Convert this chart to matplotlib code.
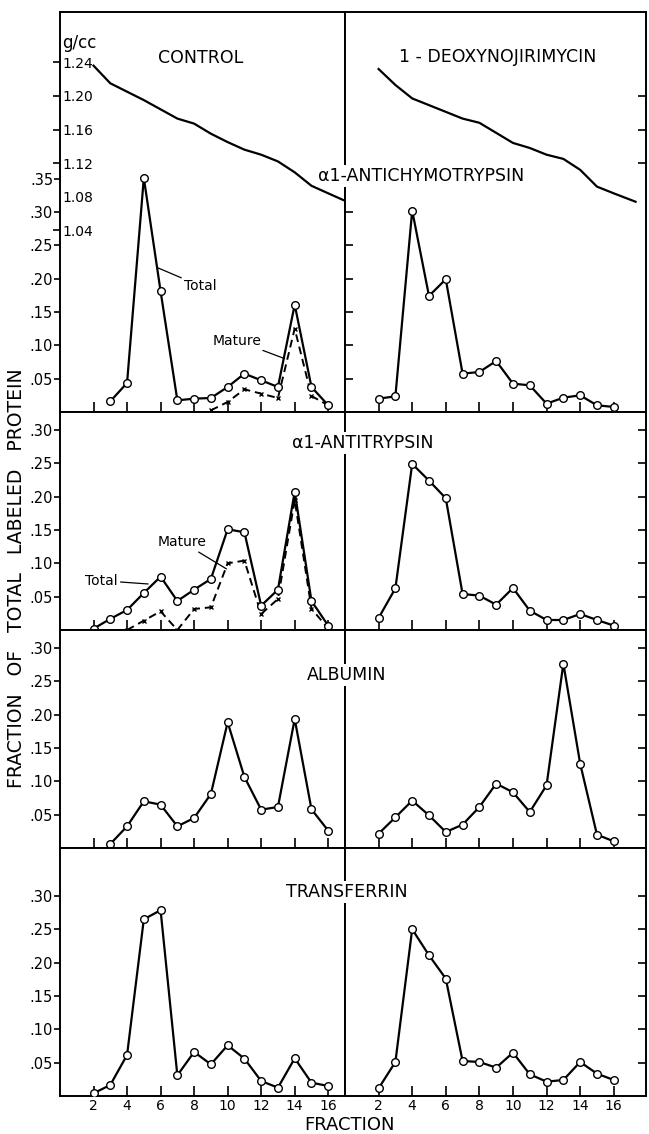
import matplotlib
matplotlib.use('Agg')
import matplotlib.pyplot as plt

# ---------------- data ----------------
x_ticks = [2, 4, 6, 8, 10, 12, 14, 16]
x_ticklabels = ['2', '4', '6', '8', '10', '12', '14', '16']
y_ticks_row1 = [0.05, 0.10, 0.15, 0.20, 0.25, 0.30, 0.35]
y_ticklabels_row1 = ['.05', '.10', '.15', '.20', '.25', '.30', '.35']
y_ticks_other = [0.05, 0.10, 0.15, 0.20, 0.25, 0.30]
y_ticklabels_other = ['.05', '.10', '.15', '.20', '.25', '.30']
density_ticks = [1.24, 1.20, 1.16, 1.12, 1.04]
density_ticklabels = ['1.24', '1.20', '1.16', '1.12', '1.04']
density_label_extra = [1.08]
density_label_extra_text = ['1.08']
density_ticks_right = [1.20, 1.16, 1.12]

# density gradients (g/cc)
density_frac_control = [2, 3, 4, 5, 6, 7, 8, 9, 10, 11, 12, 13, 14, 15, 16, 16.9]
density_control = [1.236, 1.215, 1.205, 1.195, 1.184, 1.173, 1.167, 1.155,
                   1.145, 1.136, 1.130, 1.122, 1.109, 1.093, 1.084, 1.076]
density_frac_dnj = [2, 3, 4, 5, 6, 7, 8, 9, 10, 11, 12, 13, 14, 15, 16, 17.3]
density_dnj = [1.232, 1.213, 1.197, 1.189, 1.181, 1.173, 1.168, 1.156,
               1.144, 1.138, 1.130, 1.125, 1.112, 1.092, 1.084, 1.074]

# alpha1-antichymotrypsin
act_ctrl_total_frac = list(range(3, 17))
act_ctrl_total = [0.016, 0.0435, 0.351, 0.181, 0.0175, 0.020, 0.021, 0.0375,
                  0.0575, 0.0475, 0.0375, 0.161, 0.0375, 0.010]
act_ctrl_mature_frac = list(range(9, 17))
act_ctrl_mature = [0.0025, 0.015, 0.034, 0.0275, 0.021, 0.125, 0.024, 0.010]
act_dnj_frac = list(range(2, 17))
act_dnj_total = [0.020, 0.0235, 0.302, 0.174, 0.199, 0.0575, 0.060, 0.0765,
                 0.0425, 0.040, 0.0125, 0.0215, 0.025, 0.010, 0.0076]

# alpha1-antitrypsin
at_ctrl_total_frac = list(range(2, 17))
at_ctrl_total = [0.002, 0.0167, 0.030, 0.0555, 0.080, 0.0435, 0.0605, 0.0765,
                 0.151, 0.1465, 0.0365, 0.0605, 0.2075, 0.0435, 0.0065]
at_ctrl_mature_frac = list(range(4, 17))
at_ctrl_mature = [0.0, 0.014, 0.028, 0.0, 0.0315, 0.034, 0.100, 0.104,
                  0.024, 0.0465, 0.195, 0.032, 0.002]
at_dnj_frac = list(range(2, 17))
at_dnj_total = [0.018, 0.0625, 0.249, 0.224, 0.1975, 0.054, 0.0515, 0.038,
                0.063, 0.029, 0.015, 0.015, 0.024, 0.015, 0.0066]

# albumin
alb_ctrl_frac = list(range(3, 17))
alb_ctrl_total = [0.006, 0.0325, 0.070, 0.065, 0.0325, 0.045, 0.081, 0.1885,
                  0.1065, 0.0575, 0.0615, 0.1935, 0.058, 0.026]
alb_dnj_frac = list(range(2, 17))
alb_dnj_total = [0.0215, 0.046, 0.071, 0.049, 0.024, 0.035, 0.0615, 0.0965,
                 0.0835, 0.054, 0.094, 0.2765, 0.1265, 0.020, 0.010]

# transferrin
tf_ctrl_frac = list(range(2, 17))
tf_ctrl_total = [0.004, 0.0165, 0.0615, 0.265, 0.2785, 0.031, 0.066, 0.0475,
                 0.076, 0.056, 0.0225, 0.0125, 0.0565, 0.020, 0.015]
tf_dnj_frac = list(range(2, 17))
tf_dnj_total = [0.0115, 0.051, 0.250, 0.211, 0.176, 0.0525, 0.051, 0.0425,
                0.065, 0.0325, 0.0215, 0.024, 0.051, 0.0335, 0.024]

protein_names = ['α1-ANTICHYMOTRYPSIN', 'α1-ANTITRYPSIN', 'ALBUMIN', 'TRANSFERRIN']
condition_names = ['CONTROL', '1 - DEOXYNOJIRIMYCIN']

# ---------------- layout ----------------
W, H = 649, 1134
plt.rcParams['font.family'] = ['DejaVu Sans']
fig = plt.figure(figsize=(W / 100, H / 100), dpi=100)


def rect(x0, x1, y0, y1):
    return [x0 / W, 1 - y1 / H, (x1 - x0) / W, (y1 - y0) / H]


rows_px = [(12, 412), (412, 630), (630, 848), (848, 1096)]
cols_px = [(60, 345), (345, 646)]
px_per_unit = 667.0
xlims = [(0, 17.0), (0, 17.92)]

LW = 1.6
SPW = 1.4
tot_style = dict(color='black', lw=LW, marker='o', ms=5.5, mfc='white',
                 mec='black', mew=1.0, zorder=4)
mat_style = dict(color='black', lw=1.4, ls=(0, (4, 2.5)), marker='x', ms=3.5,
                 mew=1.0, zorder=3)

panels = [
    [(act_ctrl_total_frac, act_ctrl_total, act_ctrl_mature_frac, act_ctrl_mature),
     (act_dnj_frac, act_dnj_total, None, None)],
    [(at_ctrl_total_frac, at_ctrl_total, at_ctrl_mature_frac, at_ctrl_mature),
     (at_dnj_frac, at_dnj_total, None, None)],
    [(alb_ctrl_frac, alb_ctrl_total, None, None),
     (alb_dnj_frac, alb_dnj_total, None, None)],
    [(tf_ctrl_frac, tf_ctrl_total, None, None),
     (tf_dnj_frac, tf_dnj_total, None, None)],
]

axes = [[None, None] for _ in range(4)]
for r, (y0, y1) in enumerate(rows_px):
    for c, (x0, x1) in enumerate(cols_px):
        ax = fig.add_axes(rect(x0, x1, y0, y1))
        axes[r][c] = ax
        ax.set_xlim(*xlims[c])
        ax.set_ylim(0, (y1 - y0) / px_per_unit)
        for sp in ax.spines.values():
            sp.set_linewidth(SPW)
        tf, tv, mf, mv = panels[r][c]
        if mf is not None:
            ax.plot(mf, mv, **mat_style)
        ax.plot(tf, tv, **tot_style)
        # x ticks
        ax.set_xticks(x_ticks)
        ax.tick_params(axis='x', direction='in', length=7, width=1.2,
                       top=False, bottom=True, labelsize=10, pad=2)
        if r == 3:
            ax.set_xticklabels(x_ticklabels)
        else:
            ax.set_xticklabels([])
        # y ticks
        yt = y_ticks_row1 if r == 0 else y_ticks_other
        yl = y_ticklabels_row1 if r == 0 else y_ticklabels_other
        ax.set_yticks(yt)
        if c == 0:
            ax.set_yticklabels(yl)
            ax.tick_params(axis='y', direction='out', length=4, width=1.2,
                           left=True, right=False, labelsize=10.5, pad=1)
        else:
            ax.yaxis.tick_right()
            ax.set_yticklabels([])
            ax.tick_params(axis='y', direction='in', length=6, width=1.2,
                           left=False, right=True, labelright=False)

# density curves (row 1, twin axes)
dens_lo = 1.24 - (412 - 62.3) / 33.6 * 0.04
dens_hi = 1.24 + (62.3 - 12) / 33.6 * 0.04
for c in range(2):
    ax2 = axes[0][c].twinx()
    ax2.set_ylim(dens_lo, dens_hi)
    for sp in ax2.spines.values():
        sp.set_visible(False)
    if c == 0:
        ax2.plot(density_frac_control, density_control, color='black', lw=LW)
        ax2.yaxis.tick_left()
        ax2.set_yticks(density_ticks + density_label_extra)
        ax2.set_yticklabels(density_ticklabels + density_label_extra_text)
        ax2.tick_params(axis='y', direction='out', length=5, width=1.2,
                        labelsize=10, pad=-6.5)
        plt.setp(ax2.get_yticklabels(), ha='left')
        ax2.yaxis.get_major_ticks()[-1].tick1line.set_visible(False)
        ax2.text(0.008, (412 - 43) / 400, 'g/cc', transform=ax2.transAxes,
                 ha='left', va='center', fontsize=12)
    else:
        ax2.plot(density_frac_dnj, density_dnj, color='black', lw=LW)
        ax2.set_yticks(density_ticks_right)
        ax2.set_yticklabels([])
        ax2.tick_params(axis='y', direction='in', length=6, width=1.2)

# condition titles
axes[0][0].text(0.495, 1 - (58 - 12) / 400, condition_names[0],
                transform=axes[0][0].transAxes, ha='center', va='center',
                fontsize=12.5)
axes[0][1].text(0.508, 1 - (57 - 12) / 400, condition_names[1],
                transform=axes[0][1].transAxes, ha='center', va='center',
                fontsize=12.5)

# protein titles (white background masks the divider line, as in the original)
title_pos = [(421, 176), (363, 443), (347, 675), (347, 892)]
for name, (px, py) in zip(protein_names, title_pos):
    fig.text(px / W, 1 - py / H, name, ha='center', va='center', fontsize=12.5,
             zorder=10,
             bbox=dict(facecolor='white', edgecolor='none', pad=1.5))

# annotations
ann = dict(fontsize=10, ha='left', va='center',
           arrowprops=dict(arrowstyle='-', lw=0.9, color='black',
                           shrinkA=0, shrinkB=0))
axes[0][0].annotate('Total', xy=(5.85, 0.216), xytext=(7.4, 0.189), **ann)
axes[0][0].annotate('Mature', xy=(13.4, 0.080), xytext=(9.1, 0.107), **ann)
axes[1][0].annotate('Mature', xy=(9.93, 0.0916), xytext=(5.85, 0.1315), **ann)
axes[1][0].annotate('Total', xy=(5.26, 0.069), xytext=(1.5, 0.074), **ann)

# axis labels
fig.text(17 / W, 1 - 578 / H, 'FRACTION   OF   TOTAL   LABELED   PROTEIN',
         rotation=90, ha='center', va='center', fontsize=13.5)
fig.text(349 / W, 1 - 1125 / H, 'FRACTION', ha='center', va='center',
         fontsize=13)

fig.savefig('out.png', dpi=100)
